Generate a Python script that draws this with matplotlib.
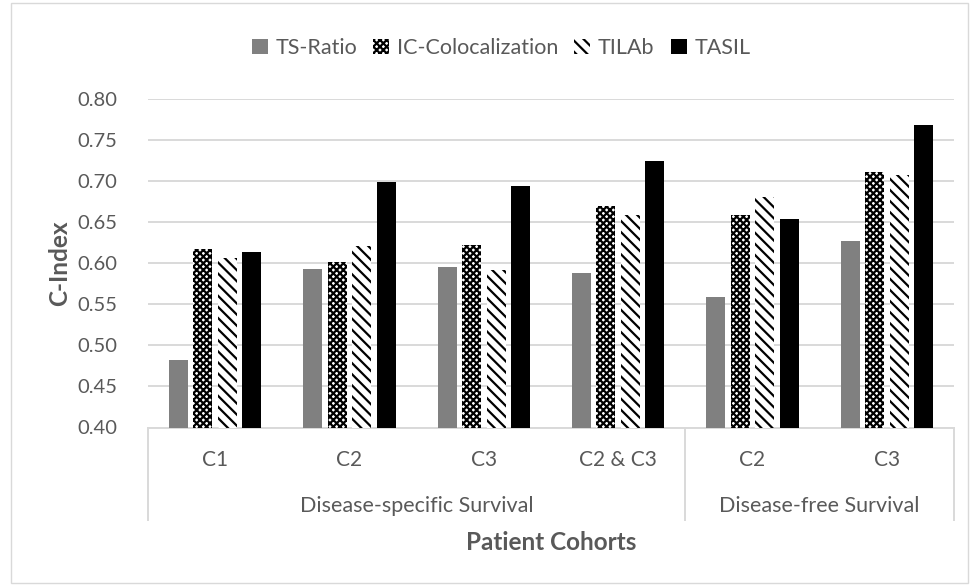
import matplotlib
matplotlib.use("Agg")
import matplotlib.pyplot as plt
from matplotlib.patches import Patch, Rectangle
from matplotlib.lines import Line2D
import matplotlib.transforms as mtransforms
import numpy as np

cohorts = ["C1", "C2", "C3", "C2 & C3", "C2", "C3"]
groups = ["Disease-specific Survival", "Disease-free Survival"]
group_sizes = [4, 2]
series = ["TS-Ratio", "IC-Colocalization", "TILAb", "TASIL"]
ts_ratio = [0.482, 0.593, 0.596, 0.588, 0.559, 0.627]
ic_coloc = [0.618, 0.602, 0.623, 0.670, 0.659, 0.711]
tilab = [0.606, 0.621, 0.592, 0.659, 0.681, 0.708]
tasil = [0.614, 0.699, 0.694, 0.725, 0.654, 0.769]
yticks = [0.40, 0.45, 0.50, 0.55, 0.60, 0.65, 0.70, 0.75, 0.80]

W, H = 973, 586
FONT = "Lato"
TXT = "#595959"
GRID = "#d9d9d9"
HLW = 1.6

plt.rcParams["hatch.linewidth"] = HLW

fig = plt.figure(figsize=(W / 100, H / 100), dpi=100)
ax = fig.add_axes([148 / W, 1 - 427.5 / H, (954 - 148) / W, (427.5 - 99.3) / H])

styles = [
    dict(facecolor="#808080", edgecolor="#808080", hatch=None),
    dict(facecolor="white", edgecolor="black", hatch="xxxxx"),
    dict(facecolor="white", edgecolor="black", hatch="\\\\\\"),
    dict(facecolor="black", edgecolor="black", hatch=None),
]
data = [ts_ratio, ic_coloc, tilab, tasil]
x = np.arange(len(cohorts))
step = 0.182
width = 0.1415
handles = []
for i, (vals, st) in enumerate(zip(data, styles)):
    ax.bar(x + (i - 1.5) * step, np.array(vals) - 0.40, bottom=0.40,
           width=width, facecolor=st["facecolor"], edgecolor=st["edgecolor"],
           hatch=st["hatch"], linewidth=0, zorder=3)
    handles.append(Patch(facecolor=st["facecolor"], edgecolor=st["edgecolor"],
                         hatch=st["hatch"], linewidth=0, label=series[i]))

ax.set_xlim(-0.5, len(cohorts) - 0.5)
ax.set_ylim(0.40, 0.80)
ax.set_yticks(yticks)
ax.set_yticklabels([f"{v:.2f}" for v in yticks], fontsize=14.5, color=TXT, family=FONT)
ax.tick_params(axis="y", length=0, pad=22)
ax.set_xticks([])
ax.grid(axis="y", color=GRID, linewidth=1.4, zorder=0)
ax.set_axisbelow(True)
for s in ["top", "right", "left"]:
    ax.spines[s].set_visible(False)
ax.spines["bottom"].set_color(GRID)
ax.spines["bottom"].set_linewidth(1.4)

# category axis box
trans = mtransforms.blended_transform_factory(ax.transData, ax.transAxes)
ybot = -(520 - 427.5) / (427.5 - 99.3)
bounds = [-0.5]
acc = -0.5
for n in group_sizes:
    acc += n
    bounds.append(acc)
for bx in bounds:
    ax.add_line(Line2D([bx, bx], [0, ybot], transform=trans, color=GRID,
                       linewidth=1.4, clip_on=False))

def fy(py):
    return 1 - py / H

for xi, lab in zip(x, cohorts):
    disp = ax.transData.transform((xi, 0.4))[0] / W
    fig.text(disp, fy(460), lab, ha="center", va="center", fontsize=15,
             color=TXT, family=FONT)
start = -0.5
for g, n in zip(groups, group_sizes):
    cx = start + n / 2
    disp = ax.transData.transform((cx, 0.4))[0] / W
    fig.text(disp, fy(506), g, ha="center", va="center", fontsize=15.5,
             color=TXT, family=FONT)
    start += n

fig.text(551 / W, fy(543), "Patient Cohorts", ha="center", va="center",
         fontsize=17.5, fontweight="bold", color=TXT, family=FONT)
fig.text(60 / W, fy(263.5), "C-Index", ha="center", va="center", rotation=90,
         fontsize=17.5, fontweight="bold", color=TXT, family=FONT)

leg = fig.legend(handles=handles, loc="center", bbox_to_anchor=(501 / W, fy(48)),
                 ncol=4, frameon=False, handlelength=0.75, handleheight=0.75,
                 handletextpad=0.35, columnspacing=0.75,
                 prop={"family": FONT, "size": 15.5})
for t in leg.get_texts():
    t.set_color(TXT)

fig.add_artist(Rectangle((10.5 / W, fy(582.5)), (968 - 10.5) / W, (582.5 - 2.5) / H,
                         transform=fig.transFigure, fill=False, edgecolor=GRID,
                         linewidth=1.0))

fig.savefig("out.png", dpi=100)
